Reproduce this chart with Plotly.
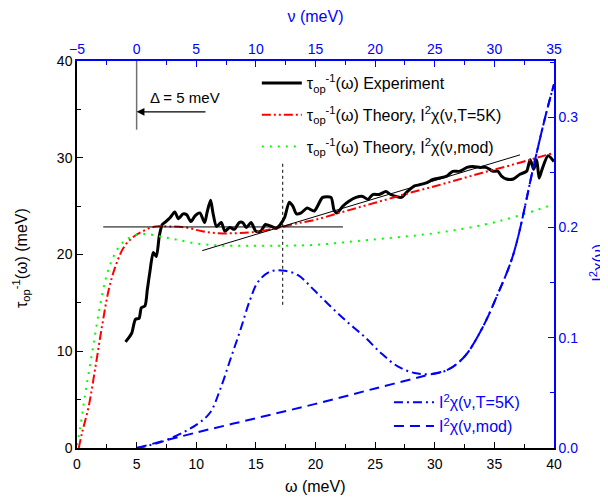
import plotly.graph_objects as go

# ---- data ----
exp_w = [4.07, 4.35, 4.6, 4.9, 5.2, 5.4, 5.7, 5.9, 6.1, 6.4,
         6.65, 6.9, 7.15, 7.45, 7.8, 8.2, 8.5, 8.9, 9.2, 9.55,
         9.9, 10.3, 10.7, 10.9, 11.2, 11.4, 11.7, 12.1, 12.4, 12.8,
         13.2, 13.6, 13.9, 14.2, 14.6, 15.0, 15.4, 15.8, 16.3, 16.7,
         17.05, 17.4, 17.8, 18.1, 18.4, 18.8, 19.3, 19.9, 20.6, 21.3,
         21.55, 21.8, 22.3, 22.8, 23.4, 23.95, 24.4, 24.8, 25.35, 25.9,
         26.3, 26.75, 27.2, 27.7, 28.3, 28.7, 29.3, 29.85, 30.4, 31.0,
         31.5, 32.1, 32.7, 33.2, 33.8, 34.3, 34.9, 35.3, 35.6, 36.0,
         36.6, 37.15, 37.7, 38.0, 38.3, 38.55, 38.75, 39.0, 39.5, 40.0]
exp_t = [10.97, 11.4, 11.9, 13.3, 13.4, 14.5, 14.7, 16.4, 18.1, 20.2,
         19.8, 21.9, 23.1, 23.4, 23.8, 24.4, 23.7, 24.2, 24.1, 23.4,
         24.0, 24.3, 23.3, 24.3, 25.6, 24.3, 22.9, 23.3, 22.4, 22.8,
         22.6, 23.3, 23.3, 22.8, 23.3, 22.4, 22.4, 23.1, 22.9, 22.7,
         23.1, 23.8, 25.4, 25.0, 24.2, 24.3, 24.8, 24.5, 25.9, 25.9,
         24.6, 24.3, 25.0, 25.5, 25.9, 26.0, 25.7, 26.2, 26.2, 26.5,
         26.2, 26.0, 25.9, 26.5, 27.1, 27.2, 27.4, 27.75, 27.9, 28.1,
         28.6, 28.6, 29.0, 29.1, 29.0, 29.0, 28.6, 28.6, 28.1, 27.8,
         27.8, 28.3, 28.6, 29.8, 28.8, 29.8, 27.9, 28.8, 30.2, 29.6]

th5_w = [0.15, 0.42, 0.98, 1.55, 2.1, 2.67, 3.23, 3.9, 4.6, 5.5, 6.6, 7.7,
         9.1, 10.5, 11.9, 13.3, 14.7, 16.2, 17.0, 18.4, 20.0, 22, 24, 26,
         28, 30, 32, 34, 36, 38, 40]
th5_t = [0.0, 1.55, 4.3, 8.4, 12.6, 16.4, 18.8, 20.7, 21.7, 22.4, 22.9, 22.9,
         22.8, 22.4, 22.2, 22.2, 22.3, 22.6, 22.8, 23.2, 23.6, 24.3, 25.0, 25.7,
         26.4, 27.05, 27.75, 28.45, 29.1, 29.8, 30.5]

thm_w = [0.0, 0.28, 0.7, 1.26, 1.83, 2.39, 2.95, 3.65, 4.35, 5.2, 6.0, 7.2,
         8.3, 9.7, 11.1, 12.5, 13.9, 15.3, 17.3, 20.0, 24.4, 30.0, 34.2, 37.0, 40.0]
thm_t = [0.3, 2.2, 5.7, 9.8, 14.0, 17.4, 19.5, 21.0, 21.7, 22.1, 22.1, 21.8,
         21.55, 21.2, 21.0, 20.9, 20.9, 20.9, 20.9, 21.0, 21.5, 22.2, 23.1, 24.0, 25.2]

nu_5k = [0.0, 2.2, 5.0, 6.15, 7.0, 7.85, 8.7, 9.5, 10.2, 11.2, 12.2, 13.5,
         14.9, 16.3, 17.7, 19.1, 20.5, 21.9, 23.3, 24.7, 26.1, 27.5, 28.9,
         30.3, 31.6, 33.4, 34.4, 35.0]
i2_5k = [0.0, 0.006, 0.021, 0.032, 0.053, 0.080, 0.107, 0.134, 0.151, 0.160,
         0.161, 0.157, 0.143, 0.128, 0.114, 0.101, 0.086, 0.074, 0.068, 0.067,
         0.071, 0.083, 0.107, 0.140, 0.176, 0.261, 0.306, 0.33]

nu_mod = [0.0, 5.0, 10.0, 15.0, 20.0, 24.7, 26.1, 27.5, 28.9, 30.3, 31.6, 33.4, 34.4, 35.0]
i2_mod = [0.0, 0.014, 0.027, 0.040, 0.054, 0.067, 0.071, 0.083, 0.107, 0.140,
          0.176, 0.261, 0.306, 0.33]

# guide lines / annotation values (data coordinates)
delta_x = 5.0
delta_y = [32.9, 40.0]
arrow_y = 34.75
arrow_tail_x = 10.9
plateau_x = [2.2, 22.3]
plateau_y = 22.85
tangent_x = [10.5, 37.15]
tangent_y = [20.4, 30.3]
peak_x = 17.25
peak_y = [14.8, 29.6]

FONT = "Liberation Sans, Arial, sans-serif"
BLUE = "#0000FF"

fig = go.Figure()
fig.add_trace(go.Scatter(x=exp_w, y=exp_t, mode="lines", line_shape="spline",
                         line=dict(color="black", width=3, smoothing=0.7),
                         name="τ<sub>op</sub><sup>-1</sup>(ω) Experiment",
                         legend="legend", legendgroup="a"))
fig.add_trace(go.Scatter(x=th5_w, y=th5_t, mode="lines", line_shape="spline",
                         line=dict(color="#FF0000", width=2, dash="9px,3px,2px,3px,2px,3px"),
                         name="τ<sub>op</sub><sup>-1</sup>(ω) Theory, I<sup>2</sup>χ(ν,T=5K)",
                         legend="legend", legendgroup="b"))
fig.add_trace(go.Scatter(x=thm_w, y=thm_t, mode="lines", line_shape="spline",
                         line=dict(color="#00FF00", width=2, dash="2px,6px"),
                         name="τ<sub>op</sub><sup>-1</sup>(ω) Theory, I<sup>2</sup>χ(ν,mod)",
                         legend="legend", legendgroup="c"))
fig.add_trace(go.Scatter(x=nu_5k, y=i2_5k, mode="lines", line_shape="spline",
                         xaxis="x2", yaxis="y2",
                         line=dict(color=BLUE, width=2, dash="9px,4px,2px,4px"),
                         name="I<sup>2</sup>χ(ν,T=5K)", legend="legend2"))
fig.add_trace(go.Scatter(x=nu_mod, y=i2_mod, mode="lines", line_shape="spline",
                         xaxis="x2", yaxis="y2",
                         line=dict(color=BLUE, width=2, dash="10px,6px"),
                         name="I<sup>2</sup>χ(ν,mod)", legend="legend2"))

shapes = [
    dict(type="line", xref="x", yref="y", x0=delta_x, x1=delta_x, y0=delta_y[0], y1=delta_y[1],
         line=dict(color="#707070", width=1.5)),
    dict(type="line", xref="x", yref="y", x0=plateau_x[0], x1=plateau_x[1], y0=plateau_y, y1=plateau_y,
         line=dict(color="black", width=1)),
    dict(type="line", xref="x", yref="y", x0=tangent_x[0], x1=tangent_x[1], y0=tangent_y[0], y1=tangent_y[1],
         line=dict(color="black", width=1)),
    dict(type="line", xref="x", yref="y", x0=peak_x, x1=peak_x, y0=peak_y[0], y1=peak_y[1],
         line=dict(color="black", width=1, dash="dot")),
]

annotations = [
    dict(x=delta_x, y=arrow_y, ax=arrow_tail_x, ay=arrow_y, xref="x", yref="y", axref="x", ayref="y",
         text="", showarrow=True, arrowhead=2, arrowsize=1.3, arrowwidth=1.2, arrowcolor="black"),
    dict(x=5.92, y=36.2, xref="x", yref="y", text="Δ = 5 meV", showarrow=False,
         xanchor="left", yanchor="middle", font=dict(family=FONT, size=15, color="black")),
    # axis titles placed explicitly
    dict(x=0.5, y=-0.10, xref="paper", yref="paper", text="ω (meV)", showarrow=False,
         xanchor="center", yanchor="middle", font=dict(family=FONT, size=16, color="black")),
    dict(x=-0.116, y=0.49, xref="paper", yref="paper", text="τ<sub>op</sub><sup>-1</sup>(ω) (meV)",
         showarrow=False, textangle=-90, xanchor="center", yanchor="middle",
         font=dict(family=FONT, size=16, color="black")),
    dict(x=1.091, y=0.48, xref="paper", yref="paper", text="I<sup>2</sup>χ(ν)", showarrow=False,
         textangle=-90, xanchor="center", yanchor="middle",
         font=dict(family=FONT, size=16, color=BLUE)),
]

axis_common = dict(showgrid=False, zeroline=False, showline=True, linewidth=1.5,
                   ticks="inside", ticklen=6, tickwidth=1.2, automargin=False,
                   tickfont=dict(family=FONT, size=14))

fig.update_layout(
    width=608, height=500,
    margin=dict(l=69, r=62, t=53, b=60),
    paper_bgcolor="white", plot_bgcolor="white",
    font=dict(family=FONT, size=14, color="black"),
    shapes=shapes, annotations=annotations,
    xaxis=dict(range=[0, 40], dtick=5, tick0=0, linecolor="black", tickcolor="black",
               minor=dict(dtick=2.5, ticks="inside", ticklen=4, tickcolor="black"),
               ticklabelstandoff=2,
               **axis_common),
    yaxis=dict(range=[0, 40], dtick=10, tick0=0, linecolor="black", tickcolor="black",
               minor=dict(dtick=5, ticks="inside", ticklen=4, tickcolor="black"),
               **axis_common),
    xaxis2=dict(range=[-5, 35], dtick=5, tick0=-5, overlaying="x", side="top", anchor="y",
                linecolor=BLUE, tickcolor=BLUE, color=BLUE,
                minor=dict(dtick=2.5, ticks="inside", ticklen=4, tickcolor=BLUE),
                title=dict(text="ν (meV)", font=dict(family=FONT, size=16, color=BLUE), standoff=15),
                **axis_common),
    yaxis2=dict(range=[0, 0.351], dtick=0.1, tick0=0, tickformat=".1f", overlaying="y", side="right",
                anchor="x", linecolor=BLUE, tickcolor=BLUE, color=BLUE,
                minor=dict(dtick=0.05, ticks="inside", ticklen=4, tickcolor=BLUE),
                **axis_common),
    legend=dict(x=0.377, y=0.987, xanchor="left", yanchor="top", bgcolor="rgba(0,0,0,0)",
                font=dict(family=FONT, size=16, color="black"), itemwidth=40,
                traceorder="grouped", tracegroupgap=8),
    legend2=dict(x=0.654, y=0.162, xanchor="left", yanchor="top", bgcolor="rgba(0,0,0,0)",
                 font=dict(family=FONT, size=16, color=BLUE), itemwidth=40),
)

fig.write_html("out.html")
